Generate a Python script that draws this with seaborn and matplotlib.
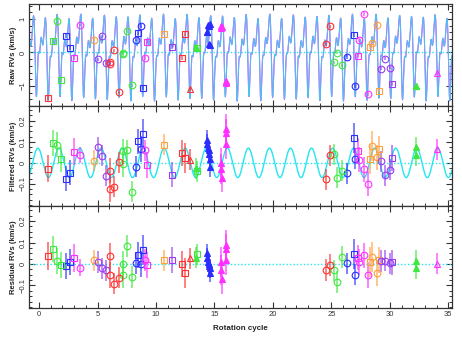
"""Raw, filtered and residual RVs against rotation cycle, three stacked panels."""

import matplotlib

matplotlib.use("Agg")
import matplotlib.pyplot as plt
import numpy as np
import pandas as pd
import seaborn as sns
from matplotlib.colors import to_rgba
from matplotlib.ticker import MultipleLocator

# observations (rotation cycle, RVs in km/s)
cycle = [0.74, 1.17, 1.51, 1.88, 2.28, 2.65, 3.0, 3.5, 4.67, 5.0, 5.36, 5.73,
         6.03, 6.08, 6.44, 6.84, 7.17, 7.22, 7.52, 7.95, 8.29, 8.46, 8.7, 8.86,
         9.06, 9.23, 10.7, 11.4, 12.2, 12.5, 12.9, 13.45, 13.5,
         14.35, 14.4, 14.45, 14.5, 14.55, 14.6, 14.65,
         15.55, 15.6, 15.62, 15.95, 15.98, 16.0,
         24.5, 24.85, 25.2, 25.5, 25.9, 26.3, 26.9, 27.0, 27.3, 27.35, 27.8,
         28.1, 28.3, 28.5, 28.9, 29.1, 29.2, 29.6, 30.0, 30.2, 32.2, 32.22, 34.0]
raw_rv = [-1.35, 0.35, 0.93, -0.82, 0.5, 0.13, -0.16, 0.82, 0.38, -0.2, 0.48, -0.31,
          -0.27, -0.33, 0.06, -1.19, -0.01, -0.05, 0.63, -0.98, 0.38, 0.59, 0.8, -1.05,
          -0.16, 0.31, 0.56, 0.15, -0.15, 0.56, -1.1, 0.15, 0.12,
          0.62, 0.6, 0.82, 0.8, 0.25, 0.22, 0.84,
          0.78, 0.74, 0.76, -0.86, -0.9, -0.88,
          0.25, 0.78, -0.29, -0.01, -0.38, -0.13, 0.53, -1.0, -0.11, 0.38, 1.14,
          -1.25, 0.17, 0.28, 0.83, -1.14, -0.48, -0.18, -0.45, -0.95, -1.0, -1.0, -0.62]
filt_rv = [-0.028, 0.094, 0.087, 0.016, -0.075, -0.047, 0.053, 0.037, 0.01, 0.073, 0.034, -0.061,
           -0.038, -0.125, -0.114, 0.003, 0.054, -0.007, 0.06, -0.137, -0.019, 0.103, 0.066, 0.139,
           0.06, -0.01, 0.085, -0.056, 0.047, 0.023, 0.015, -0.025, -0.04,
           0.11, 0.09, 0.07, 0.06, 0.04, 0.02, -0.02,
           0.0, -0.03, -0.07, 0.09, 0.14, 0.16,
           -0.078, 0.036, 0.04, -0.07, -0.038, -0.049, 0.117, 0.019, 0.058, 0.015, -0.031,
           -0.099, 0.019, 0.081, 0.026, 0.066, 0.008, -0.06, -0.033, 0.023, 0.073, 0.037, 0.064]
resid_rv = [0.038, 0.068, 0.015, -0.005, -0.01, 0.008, 0.028, -0.018, 0.017, 0.01, -0.02, -0.03,
            0.038, -0.05, -0.092, -0.063, 0.0, -0.052, 0.083, -0.06, 0.003, 0.043, 0.0, 0.065,
            0.018, -0.005, 0.017, 0.018, 0.0, -0.043, 0.026, 0.03, 0.045,
            0.05, 0.03, 0.01, 0.0, -0.01, -0.02, -0.04,
            0.01, -0.03, -0.07, 0.02, 0.07, 0.09,
            -0.028, -0.005, -0.03, -0.083, 0.032, 0.003, 0.046, -0.05, 0.03, 0.008, 0.04,
            -0.05, 0.01, 0.033, -0.042, 0.02, 0.013, 0.015, 0.003, 0.007, 0.013, -0.02, 0.002]
rv_err = [0.065, 0.06, 0.06, 0.06, 0.06, 0.06, 0.065, 0.04, 0.05, 0.05, 0.05, 0.05,
          0.06, 0.06, 0.05, 0.05, 0.06, 0.06, 0.05, 0.05, 0.05, 0.06, 0.06, 0.07,
          0.05, 0.06, 0.05, 0.06, 0.06, 0.07, 0.05, 0.05, 0.05,
          0.045, 0.045, 0.045, 0.045, 0.045, 0.045, 0.045,
          0.07, 0.07, 0.07, 0.07, 0.07, 0.07,
          0.05, 0.05, 0.05, 0.05, 0.05, 0.05, 0.07, 0.05, 0.06, 0.06, 0.06,
          0.06, 0.07, 0.07, 0.06, 0.06, 0.05, 0.05, 0.05, 0.06, 0.05, 0.05, 0.05]
colour = ["r", "g", "g", "g", "b", "b", "m", "m", "o", "p", "p", "p",
          "r", "r", "r", "r", "g", "g", "g", "g", "b", "b", "b", "b",
          "m", "m", "o", "p", "r", "r", "r", "g", "g",
          "b", "b", "b", "b", "b", "b", "b",
          "m", "m", "m", "m", "m", "m",
          "r", "r", "g", "g", "g", "b", "b", "b", "m", "m", "m",
          "m", "o", "o", "o", "o", "p", "p", "p", "p", "g", "g", "m"]
marker = ["s", "s", "o", "s", "s", "s", "s", "o", "o", "o", "o", "o",
          "o", "o", "o", "o", "o", "o", "o", "o", "o", "s", "o", "s",
          "o", "s", "s", "s", "s", "s", "^", "^", "s",
          "^", "^", "^", "^", "^", "^", "^",
          "^", "^", "^", "^", "^", "^",
          "o", "o", "o", "o", "o", "o", "s", "o", "s", "o", "o",
          "o", "s", "o", "o", "s", "o", "o", "o", "s", "^", "^", "^"]
filled = [0] * 31 + [1, 0] + [1] * 7 + [1] * 6 + [0] * 20 + [1, 1, 0]

palette = {"r": "#ff3030", "g": "#3ee83e", "b": "#2c2cff", "p": "#9a3cf0",
           "m": "#ff30ff", "o": "#ffa040"}

# activity model: harmonics of the rotation (cos / sin terms, km/s)
act_period = 1.01
act_phase0 = 0.07
act_mean = 0.065
act_cos = [-0.66, 0.13, 0.26, 0.08]
act_sin = [0.27, 0.52, -0.13, -0.06]
# planet model
planet_period = 1.80
planet_k = 0.07
planet_t0 = -0.10


def activity(t):
    phi = t / act_period + act_phase0
    out = np.full_like(t, act_mean)
    for k, (a, b) in enumerate(zip(act_cos, act_sin), start=1):
        out += a * np.cos(2 * np.pi * k * phi) + b * np.sin(2 * np.pi * k * phi)
    return out


def planet(t):
    return planet_k * np.cos(2 * np.pi * (t - planet_t0) / planet_period)


df = pd.DataFrame({"cycle": cycle, "raw": raw_rv, "filt": filt_rv,
                   "resid": resid_rv, "err": rv_err, "colour": colour,
                   "marker": marker, "filled": filled})

sns.set_style("ticks")
plt.rcParams["font.family"] = ["Liberation Sans", "DejaVu Sans"]
plt.rcParams["axes.linewidth"] = 0.9

fig = plt.figure(figsize=(4.62, 3.38), dpi=100)
left, width = 0.063, 0.915
axes = [fig.add_axes([left, 0.6864, width, 0.3018]),
        fig.add_axes([left, 0.3905, width, 0.2959]),
        fig.add_axes([left, 0.0888, width, 0.3017])]

t_fine = np.linspace(-0.9, 35.4, 8000)
t_coarse = np.linspace(-0.9, 35.4, 1800)

sns.lineplot(x=t_fine, y=activity(t_fine) + planet(t_fine), ax=axes[0],
             color="#ff30ff", lw=0.8, estimator=None, sort=False)
sns.lineplot(x=t_coarse, y=activity(t_coarse) + planet(t_coarse), ax=axes[0],
             color="#4cc2f2", lw=0.75, estimator=None, sort=False)
sns.lineplot(x=t_fine, y=planet(t_fine), ax=axes[1],
             color="#22e6f0", lw=1.0, estimator=None, sort=False)

for ax, col, lab in zip(axes, ["raw", "filt", "resid"],
                        ["Raw RVs (km/s)", "Filtered RVs (km/s)",
                         "Residual RVs (km/s)"]):
    ax.axhline(0, color="#22e6f0", lw=1.0, ls=(0, (1, 1.5)), zorder=1)
    for (c, m, f), g in df.groupby(["colour", "marker", "filled"]):
        col_c = palette[c]
        ax.errorbar(g["cycle"], g[col], yerr=g["err"], fmt="none",
                    ecolor=to_rgba(col_c, 0.65), elinewidth=1.3, capsize=0,
                    zorder=2)
        ax.plot(g["cycle"], g[col], ls="none", marker=m, ms=4.8,
                mfc=col_c if f else "none", mec=col_c, mew=0.8, zorder=3)
    ax.set_xlim(-0.85, 35.3)
    ax.xaxis.set_major_locator(MultipleLocator(5))
    ax.xaxis.set_minor_locator(MultipleLocator(1))
    ax.tick_params(which="both", direction="in", top=True, right=True,
                   labelsize=5.5, colors="#333333", pad=2)
    ax.tick_params(which="major", length=4, width=0.8)
    ax.tick_params(which="minor", length=2, width=0.7)
    ax.set_ylabel(lab, fontsize=5.5, fontweight="bold", labelpad=2)
    for sp in ax.spines.values():
        sp.set_color("#333333")
    if col != "resid":
        ax.tick_params(axis="x", labelbottom=False)

axes[0].set_ylim(-1.6, 1.45)
axes[0].yaxis.set_minor_locator(MultipleLocator(0.2))
axes[0].set_yticks([-1, 0, 1])
axes[0].set_yticklabels(["\u22121", "0", "1"])
for ax in axes[1:]:
    ax.set_ylim(-0.205, 0.27)
    ax.yaxis.set_minor_locator(MultipleLocator(0.025))
    ax.set_yticks([-0.1, 0, 0.1, 0.2])
    ax.set_yticklabels(["\u22120.1", "0", "0.1", "0.2"])
for ax in axes:
    plt.setp(ax.get_yticklabels(), rotation=90, va="center")

axes[2].set_xlabel("Rotation cycle", fontsize=5.8, fontweight="bold",
                   labelpad=5)

plt.savefig("out.png", dpi=100)
